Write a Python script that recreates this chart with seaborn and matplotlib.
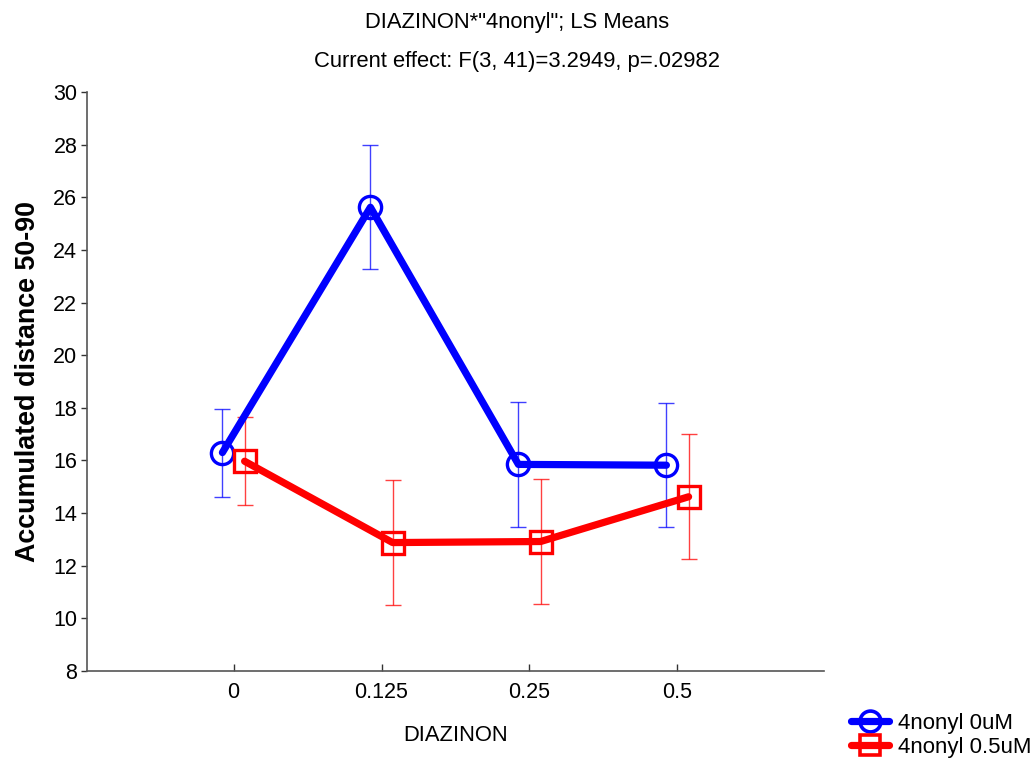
import matplotlib
matplotlib.use("Agg")
import matplotlib.pyplot as plt
from matplotlib.lines import Line2D
import seaborn as sns
import pandas as pd
import numpy as np

# LS means and standard errors for each DIAZINON dose, per 4nonyl group
doses = ["0", "0.125", "0.25", "0.5"]
groups = ["4nonyl 0uM", "4nonyl 0.5uM"]
mean_0uM = [16.3, 25.62, 15.85, 15.82]
err_0uM = [1.67, 2.36, 2.36, 2.35]
mean_05uM = [15.97, 12.88, 12.92, 14.62]
err_05uM = [1.67, 2.37, 2.36, 2.38]
colors = ["#0000ff", "#ff0000"]
markers = ["o", "s"]

df = pd.DataFrame({
    "DIAZINON": doses * 2,
    "group": [groups[0]] * 4 + [groups[1]] * 4,
    "value": mean_0uM + mean_05uM,
})

sns.set_style("white")
plt.rcParams["font.family"] = ["Liberation Sans", "DejaVu Sans"]
plt.rcParams.update({
    "text.color": "black",
    "axes.labelcolor": "black",
    "xtick.color": "black",
    "ytick.color": "black",
})

fig = plt.figure(figsize=(10.35, 7.64), dpi=100)
ax = fig.add_axes([87 / 1035, 93 / 764, (824 - 87) / 1035, (671 - 92) / 764])

sns.pointplot(
    data=df, x="DIAZINON", y="value", hue="group",
    order=doses, hue_order=groups, palette=colors,
    markers=markers, linestyles=["-", "-"], dodge=0.15,
    errorbar=None, ax=ax, legend=False,
    linewidth=5.2, markersize=16, markeredgewidth=2.4,
)

# hollow markers and matching error bars
hue_lines = [ln for ln in ax.lines if len(ln.get_xdata()) == len(doses)]
for ln, means, errs, c in zip(hue_lines, [mean_0uM, mean_05uM], [err_0uM, err_05uM], colors):
    ln.set_markerfacecolor("none")
    ln.set_zorder(3)
    xs = np.asarray(ln.get_xdata(), dtype=float)
    ax.errorbar(xs, means, yerr=errs, fmt="none", ecolor=c, elinewidth=1.0,
                capsize=5.5, capthick=1.0, alpha=0.75, zorder=2)

ax.set_xlim(-0.99, 3.99)
ax.set_ylim(8, 30)
ax.set_yticks(np.arange(8, 31, 2))
ax.set_xticks(range(len(doses)))
ax.set_xticklabels(doses)

for side in ["top", "right"]:
    ax.spines[side].set_visible(False)
for side in ["left", "bottom"]:
    ax.spines[side].set_color("#555555")
    ax.spines[side].set_linewidth(1.2)

ax.tick_params(axis="y", direction="out", length=4, width=1, color="#333333",
               labelsize=15.5, pad=3, left=True, labelcolor="black")
ax.tick_params(axis="x", direction="in", length=5, width=1, color="#333333",
               labelsize=15.5, pad=8, bottom=True, labelcolor="black")

ax.set_xlabel("DIAZINON", fontsize=15.8, labelpad=16, color="black")
ax.set_ylabel("Accumulated distance 50-90", fontsize=19.4, fontweight="bold",
              labelpad=9, color="black")

fig.text(0.5, 1 - 28 / 764, "DIAZINON*\"4nonyl\"; LS Means", ha="center",
         va="baseline", fontsize=15.8, color="black")
fig.text(0.5, 1 - 67 / 764, "Current effect: F(3, 41)=3.2949, p=.02982", ha="center",
         va="baseline", fontsize=15.8, color="black")

handles = [
    Line2D([], [], color=c, marker=m, markerfacecolor="none", markersize=15,
           markeredgewidth=2.6, linewidth=5.2)
    for c, m in zip(colors, markers)
]
leg = fig.legend(handles, groups, loc="lower right", bbox_to_anchor=(1.005, -0.004),
                 frameon=False, fontsize=16, handlelength=1.7, handletextpad=0.4,
                 labelspacing=0.15, borderaxespad=0.0)
for t in leg.get_texts():
    t.set_color("black")

fig.savefig("out.png", dpi=100)
